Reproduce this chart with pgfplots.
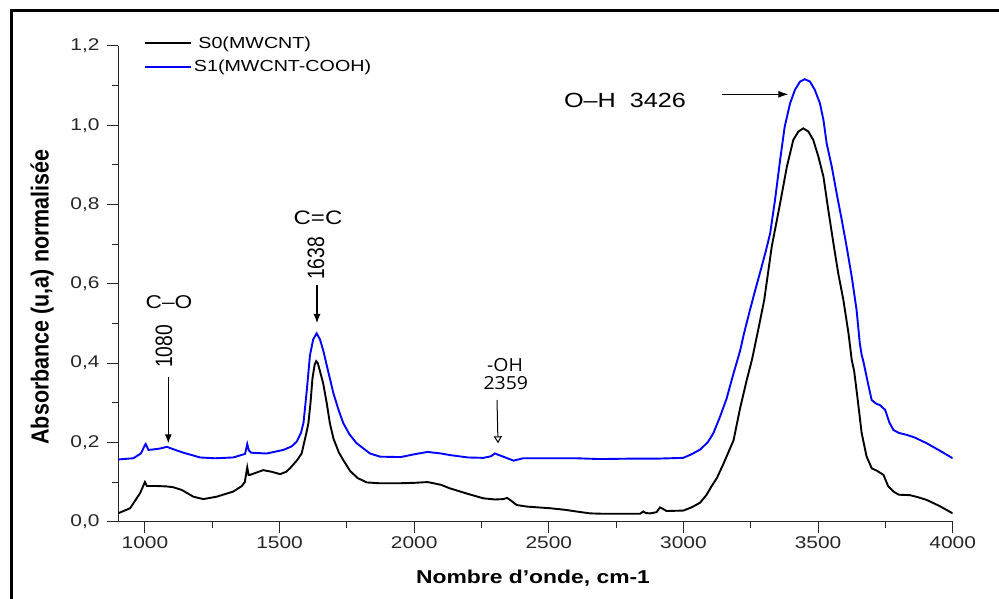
\documentclass[border=0pt]{standalone}
\usepackage{pgfplots}
\pgfplotsset{compat=1.18}
\usepackage{fontspec}
\setmainfont{Liberation Sans}
\newfontfamily\segoe{Open Sans}
\usetikzlibrary{arrows.meta}
\newcommand{\widen}[1]{\scalebox{1.23}[1]{#1}}

\pgfplotstableread{
x y
900 0.021
945 0.034
982 0.072
1000 0.100
1007 0.090
1044 0.090
1080 0.089
1105 0.087
1137 0.080
1180 0.063
1217 0.057
1266 0.063
1328 0.076
1360 0.090
1371 0.100
1380 0.137
1385 0.118
1390 0.118
1439 0.130
1470 0.126
1502 0.120
1525 0.126
1539 0.135
1565 0.155
1582 0.172
1600 0.225
1607 0.248
1615 0.300
1622 0.360
1630 0.395
1636 0.405
1642 0.400
1650 0.380
1662 0.349
1675 0.300
1687 0.248
1700 0.210
1720 0.175
1737 0.155
1762 0.128
1790 0.110
1824 0.099
1870 0.097
1947 0.097
2000 0.098
2050 0.100
2100 0.093
2133 0.084
2200 0.070
2257 0.059
2300 0.056
2331 0.057
2345 0.060
2356 0.055
2381 0.042
2420 0.038
2504 0.034
2560 0.030
2600 0.026
2653 0.021
2700 0.020
2839 0.020
2851 0.026
2860 0.022
2876 0.021
2900 0.024
2913 0.036
2925 0.032
2937 0.027
2999 0.028
3030 0.036
3062 0.048
3086 0.068
3105 0.090
3124 0.110
3148 0.145
3170 0.180
3186 0.205
3210 0.285
3235 0.357
3255 0.410
3278 0.485
3300 0.559
3328 0.694
3359 0.803
3384 0.895
3408 0.963
3427 0.984
3445 0.992
3464 0.984
3482 0.963
3501 0.921
3520 0.870
3538 0.786
3557 0.702
3575 0.626
3594 0.559
3613 0.475
3625 0.408
3634 0.380
3645 0.320
3662 0.223
3680 0.165
3699 0.135
3720 0.128
3743 0.118
3760 0.090
3780 0.076
3800 0.068
3841 0.067
3870 0.062
3903 0.055
3950 0.040
4000 0.021
}\sZero

\pgfplotstableread{
x y
900 0.157
957 0.160
985 0.172
1000 0.193
1003 0.196
1013 0.181
1040 0.183
1060 0.185
1081 0.189
1100 0.184
1143 0.174
1205 0.162
1260 0.160
1328 0.162
1372 0.171
1380 0.196
1386 0.180
1395 0.174
1452 0.172
1514 0.181
1545 0.190
1564 0.202
1580 0.225
1589 0.250
1601 0.330
1613 0.420
1625 0.460
1638 0.475
1650 0.460
1663 0.430
1675 0.395
1700 0.324
1720 0.280
1737 0.248
1760 0.220
1786 0.198
1836 0.172
1873 0.164
1950 0.163
2000 0.170
2050 0.176
2100 0.172
2133 0.168
2200 0.162
2257 0.161
2285 0.165
2300 0.172
2315 0.168
2331 0.164
2369 0.154
2405 0.160
2500 0.160
2600 0.160
2690 0.158
2800 0.159
2900 0.159
2999 0.161
3030 0.170
3062 0.182
3090 0.200
3111 0.223
3136 0.265
3160 0.310
3186 0.374
3210 0.430
3225 0.475
3247 0.534
3265 0.580
3284 0.627
3305 0.680
3322 0.727
3340 0.811
3359 0.912
3376 0.996
3396 1.055
3414 1.089
3433 1.110
3451 1.116
3470 1.110
3488 1.089
3507 1.055
3520 1.013
3532 0.954
3551 0.895
3569 0.828
3588 0.761
3606 0.694
3625 0.618
3643 0.534
3655 0.450
3662 0.420
3668 0.405
3685 0.350
3699 0.307
3715 0.298
3730 0.294
3749 0.282
3765 0.250
3780 0.231
3800 0.224
3829 0.219
3860 0.212
3903 0.198
3950 0.180
4000 0.160
}\sOne

\begin{document}
\begin{tikzpicture}[x=1pt,y=1pt]
\useasboundingbox (0,0) rectangle (999,598);
\draw[line width=3pt] (11,-10) -- (11,587) -- (1010,587);
\begin{axis}[
  at={(118pt,76.3pt)}, anchor=south west,
  scale only axis, width=834.7pt, height=475.8pt,
  xmin=900, xmax=4000, ymin=0, ymax=1.2,
  axis x line*=bottom, axis y line*=left,
  axis line style={line width=1pt, black!85, -},
  tick align=outside,
  xtick={1000,1500,2000,2500,3000,3500,4000}, minor x tick num=1,
  ytick={0,0.2,0.4,0.6,0.8,1.0,1.2}, minor y tick num=1,
  major tick length=11pt, minor tick length=6pt,
  every tick/.style={line width=1pt, black!85},
  /pgf/number format/assume math mode=true,
  ticklabel style={font=\fontsize{17}{19}\selectfont, text=black!85},
  xticklabel={\widen{\pgfmathprintnumber[1000 sep={}]{\tick}}},
  yticklabel={\widen{\pgfmathprintnumber[use comma,fixed,fixed zerofill,precision=1]{\tick}}},
  yticklabel style={xshift=-4pt},
  legend style={at={(0.031,1.024)}, anchor=north west, draw=none, fill=none,
    font=\fontsize{16}{18}\selectfont, row sep=6.5pt, inner sep=0pt},
  legend cell align=left,
  legend image code/.code={\draw[#1] (0pt,0pt) -- (46pt,0pt);},
]
\addplot[black, line width=1.9pt] table[x=x,y=y] {\sZero};
\addlegendentry{\ \widen{S0(MWCNT)}}
\addplot[blue, line width=1.9pt] table[x=x,y=y] {\sOne};
\addlegendentry{\widen{S1(MWCNT-COOH)}}
\end{axis}
% axis labels
\node[rotate=90, font=\bfseries\fontsize{21.5}{24}\selectfont] at (42,301) {\scalebox{1}[1.15]{Absorbance (u,a) normalisée}};
\node[font=\bfseries\fontsize{18.6}{22}\selectfont] at (533,20) {\widen{Nombre d'onde, cm-1}};
% annotations
\node[font=\fontsize{18.5}{20}\selectfont] at (169,296) {\widen{C–O}};
\node[rotate=90, font=\fontsize{19.3}{22}\selectfont] at (164,251.5) {\scalebox{1}[1.23]{1080}};
\draw[line width=1.1pt, -{Latex[length=9pt,width=7pt]}] (168.3,221.3) -- (168.3,154.7);
\node[font=\fontsize{19.5}{22}\selectfont] at (318,380) {\widen{C=C}};
\node[rotate=90, font=\fontsize{19.3}{22}\selectfont] at (316,339.5) {\scalebox{1}[1.23]{1638}};
\draw[line width=1.1pt, -{Latex[length=9pt,width=7pt]}] (317,313) -- (317,275);
\node[font=\segoe\fontsize{18}{20}\selectfont] at (505,233) {\scalebox{1.08}[1]{-OH}};
\node[font=\segoe\fontsize{18}{20}\selectfont] at (505.8,215) {\scalebox{1.08}[1]{2359}};
\draw[line width=1pt, -{Triangle[open,length=7pt,width=8pt]}] (497,198) -- (498,154.7);
\node[font=\fontsize{20.5}{22}\selectfont] at (625,498) {\widen{O–H\ \ 3426}};
\draw[line width=1.1pt, -{Latex[length=10pt,width=7pt]}] (721.7,503.7) -- (788.3,503.7);
\end{tikzpicture}
\end{document}
